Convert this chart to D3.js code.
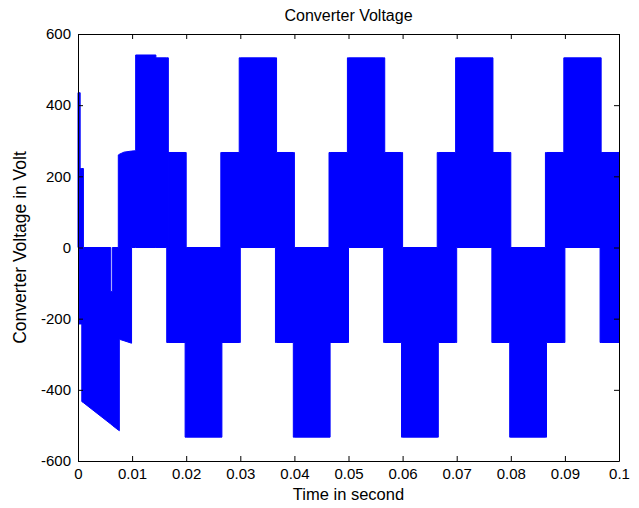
<!DOCTYPE html>
<html>
<head>
<meta charset="utf-8">
<script src="https://cdn.jsdelivr.net/npm/d3@7"></script>
<style>
  html, body { margin: 0; padding: 0; background: #fff; }
  svg { display: block; font-family: "Liberation Sans", Arial, sans-serif; }
</style>
</head>
<body>
<div id="chart"></div>
<script>
// start-up part of the trace, straight-line envelope (repeated times = vertical jumps)
const transientT  = [0, 0.0002, 0.0002, 0.0004, 0.0004, 0.0007, 0.0007, 0.0010, 0.0010,
                     0.00605, 0.00605, 0.00635, 0.00635, 0.00745, 0.00745, 0.00764, 0.00764,
                     0.0085, 0.0099, 0.0099, 0.01066, 0.01066, 0.0144, 0.0144, 0.0164, 0.0164, 0.0167];
const transientHi = [435, 435, 435, 435, 222, 222, 222, 222, 0,
                     0, -124, -124, 0, 0, 260, 262, 262,
                     268, 271, 271, 272, 541, 541, 533, 533, 533, 533];
const transientLo = [0, 0, -215, -215, -215, -215, -433, -436, -436,
                     -496, -496, -500, -500, -513, -513, -515, -258,
                     -262, -269, 0, 0, 0, 0, 0, 0, -267, -267];

// steady state, step envelope (value holds until next time)
const stepT  = [0.0167, 0.0198, 0.0200, 0.0264, 0.0266, 0.0298, 0.0300, 0.0365, 0.0367,
                0.0398, 0.0400, 0.0464, 0.0466, 0.0498, 0.0500, 0.0565, 0.0567,
                0.0598, 0.0600, 0.0664, 0.0666, 0.0698, 0.0700, 0.0765, 0.0767,
                0.0798, 0.0800, 0.0864, 0.0866, 0.0898, 0.0900, 0.0965, 0.0967, 0.1000];
const stepHi = [267, 267, 0, 267, 267, 533, 533, 533, 267,
                267, 0, 267, 267, 533, 533, 533, 267,
                267, 0, 267, 267, 533, 533, 533, 267,
                267, 0, 267, 267, 533, 533, 533, 267, 267];
const stepLo = [-267, -533, -533, -533, -267, -267, 0, -267, -267,
                -533, -533, -533, -267, -267, 0, -267, -267,
                -533, -533, -533, -267, -267, 0, -267, -267,
                -533, -533, -533, -267, -267, 0, -267, -267, -267];

const xTicks = [0, 0.01, 0.02, 0.03, 0.04, 0.05, 0.06, 0.07, 0.08, 0.09, 0.1];
const xTickText = ["0", "0.01", "0.02", "0.03", "0.04", "0.05", "0.06", "0.07", "0.08", "0.09", "0.1"];
const yTicks = [-600, -400, -200, 0, 200, 400, 600];
const yTickText = ["-600", "-400", "-200", "0", "200", "400", "600"];

const width = 639;
const height = 508;
const margin = {left: 78, right: 20, top: 34, bottom: 47};

const svg = (d3.select("#chart").append("svg")
             .attr("width", width)
             .attr("height", height)
             .attr("viewBox", [0, 0, width, height]));

const x = (d3.scaleLinear()
           .domain([0, 0.1])
           .range([margin.left, width - margin.right]));

const y = (d3.scaleLinear()
           .domain([-600, 600])
           .range([height - margin.bottom, margin.top]));

function toRows(ts, his, los) {
  return ts.map((t, i) => ({t: t, hi: his[i], lo: los[i]}));
}

const trace = svg.append("g");

trace.append("path")
  .datum(toRows(transientT, transientHi, transientLo))
  .attr("fill", "#0000ff")
  .attr("stroke", "#0000ff")
  .attr("stroke-width", 1)
  .attr("d", d3.area()
        .x((d) => x(d.t))
        .y0((d) => y(d.lo))
        .y1((d) => y(d.hi)));

trace.append("path")
  .datum(toRows(stepT, stepHi, stepLo))
  .attr("fill", "#0000ff")
  .attr("stroke", "#0000ff")
  .attr("stroke-width", 1)
  .attr("d", d3.area()
        .curve(d3.curveStepAfter)
        .x((d) => x(d.t))
        .y0((d) => y(d.lo))
        .y1((d) => y(d.hi)));

// box with inward ticks on all four sides
const tickLen = 5;
const fmtX = (d, i) => xTickText[i];
const fmtY = (d, i) => yTickText[i];

const axes = [
  {ax: d3.axisBottom(x).tickValues(xTicks).tickFormat(fmtX), tr: [0, height - margin.bottom]},
  {ax: d3.axisTop(x).tickValues(xTicks).tickFormat(""), tr: [0, margin.top]},
  {ax: d3.axisLeft(y).tickValues(yTicks).tickFormat(fmtY), tr: [margin.left, 0]},
  {ax: d3.axisRight(y).tickValues(yTicks).tickFormat(""), tr: [width - margin.right, 0]}
];

axes.forEach((a) => {
  const g = svg.append("g")
    .attr("transform", `translate(${a.tr[0]},${a.tr[1]})`)
    .call(a.ax.tickSizeInner(-tickLen).tickSizeOuter(0).tickPadding(7));
  g.selectAll("path.domain").attr("stroke", "#000");
  g.selectAll("line").attr("stroke", "#000");
  g.selectAll("text")
    .attr("fill", "#000")
    .style("font-size", "15px");
});

svg.append("text")
  .attr("x", (x(0) + x(0.1)) / 2)
  .attr("y", 21)
  .attr("text-anchor", "middle")
  .style("font-size", "16px")
  .text("Converter Voltage");

svg.append("text")
  .attr("x", (x(0) + x(0.1)) / 2)
  .attr("y", 500)
  .attr("text-anchor", "middle")
  .style("font-size", "16.5px")
  .text("Time in second");

svg.append("text")
  .attr("transform", `translate(26,${(y(-600) + y(600)) / 2}) rotate(-90)`)
  .attr("text-anchor", "middle")
  .style("font-size", "17.5px")
  .text("Converter Voltage in Volt");
</script>
</body>
</html>
